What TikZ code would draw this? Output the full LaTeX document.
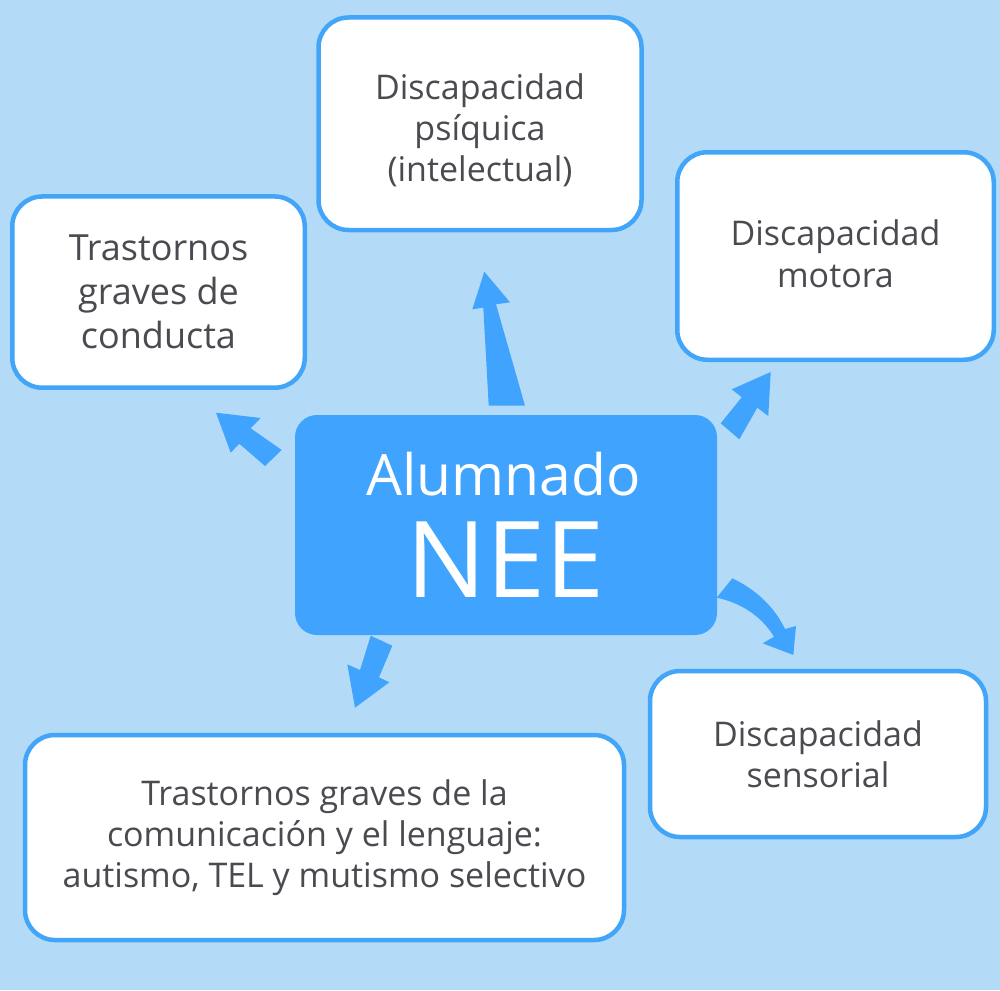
\documentclass[tikz,border=0pt]{standalone}
\usepackage{fontspec}
\setmainfont{Open Sans}
\definecolor{bg}{HTML}{B3DBF7}
\definecolor{edge}{HTML}{42A5F8}
\definecolor{core}{HTML}{40A4FF}
\definecolor{txt}{HTML}{4A4A50}
\tikzset{
  box/.style={draw=edge, line width=4.5pt, fill=white, rounded corners=30pt,
    inner sep=0pt, align=center, text=txt},
  fatarrow/.style={fill=core, draw=none},
}
\begin{document}
\begin{tikzpicture}[x=1pt,y=-1pt]
\fill[bg] (0,0) rectangle (1000,990);
\useasboundingbox (0,0) rectangle (1000,990);

% arrows
\fill[fatarrow] (488.7,405.7) -- (483.3,307.7) -- (472.3,309.3) -- (484.3,271.7)
  -- (510,302.3) -- (496,304.3) -- (525,405.7) -- cycle;
\fill[fatarrow] (265,466) -- (239.3,443.7) -- (230.7,452.7) -- (216,412.7)
  -- (260.7,418) -- (250.7,428.3) -- (281.7,450) -- cycle;
\fill[fatarrow] (720.7,423.3) -- (741.7,397.3) -- (731.7,389.3) -- (770.7,372)
  -- (768.3,416) -- (757.3,407.7) -- (739.3,439.3) -- cycle;
\fill[fatarrow] (370.7,635.7) -- (360,670) -- (347.3,664.3) -- (355,707.7)
  -- (389.3,682.3) -- (379,677.3) -- (392.3,645.7) -- cycle;
\fill[fatarrow] (716.7,597.7) -- (732.3,578.3) .. controls (757,590) and (775,608) .. (785,629)
  -- (796,626) -- (793.3,655) -- (762.7,643.3) -- (774,636.7)
  .. controls (762,617) and (742,603) .. (716.7,597.7) -- cycle;

% central node
\node[fill=core, rounded corners=22pt, minimum width=422pt, minimum height=220pt,
  inner sep=0pt] (nee) at (506,525) {};
\node[anchor=base, text=white, font=\fontsize{57}{60}\selectfont, inner sep=0pt]
  (alum) at (503.5,495) {Alumnado};
\node[anchor=base, text=white, font=\fontsize{106}{110}\selectfont, inner sep=0pt]
  (neet) at (505.5,597) {NEE};

% boxes
\node[box, minimum width=323pt, minimum height=212.5pt] (psi) at (480,123.75) {};
\node[align=center, text=txt, inner sep=0pt, font=\fontsize{34}{41}\selectfont]
  (psitxt) at (480,130) {Discapacidad\\psíquica\\(intelectual)};
\node[box, minimum width=292.5pt, minimum height=191.25pt,
  font=\fontsize{36}{44}\selectfont] (cond) at (158.5,292.1)
  {Trastornos\\graves de\\conducta};
\node[box, minimum width=316.5pt, minimum height=207.5pt] (mot) at (835.5,256) {};
\node[align=center, text=txt, inner sep=0pt, font=\fontsize{34}{42}\selectfont]
  (mottxt) at (835.5,254) {Discapacidad\\motora};
\node[box, minimum width=336pt, minimum height=166pt,
  font=\fontsize{34}{41}\selectfont] (sens) at (818,754)
  {Discapacidad\\sensorial};
\node[box, minimum width=599pt, minimum height=205pt,
  font=\fontsize{34}{41}\selectfont] (com) at (324.5,837.5)
  {Trastornos graves de la\\comunicación y el lenguaje:\\autismo, TEL y mutismo selectivo};
\end{tikzpicture}
\end{document}
